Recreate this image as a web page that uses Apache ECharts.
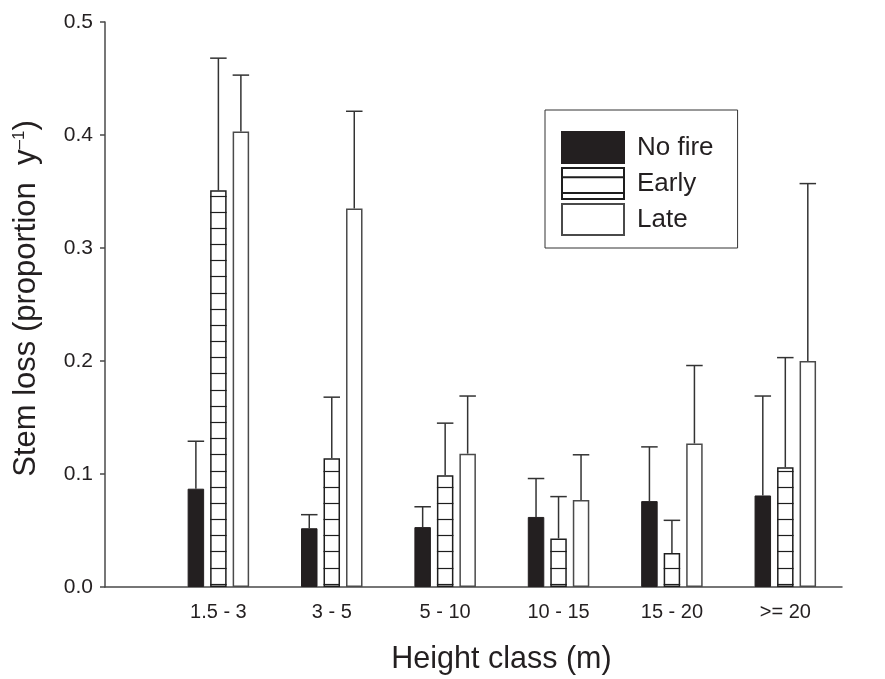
<!DOCTYPE html>
<html>
<head>
<meta charset="utf-8">
<script src="https://cdn.jsdelivr.net/npm/echarts@6/dist/echarts.min.js"></script>
<style>
  html, body { margin: 0; padding: 0; background: #ffffff; }
  #chart { width: 885px; height: 679px; }
</style>
</head>
<body>
<div id="chart"></div>
<script>
// ---- data ----
const categories = ['1.5 - 3', '3 - 5', '5 - 10', '10 - 15', '15 - 20', '>= 20'];
const seriesNames = ['No fire', 'Early', 'Late'];
const noFire      = [0.087, 0.052, 0.053, 0.062, 0.076, 0.081];
const noFireUpper = [0.129, 0.064, 0.071, 0.096, 0.124, 0.169];
const early       = [0.351, 0.114, 0.099, 0.043, 0.030, 0.106];
const earlyUpper  = [0.468, 0.168, 0.145, 0.080, 0.059, 0.203];
const late        = [0.403, 0.335, 0.118, 0.077, 0.127, 0.200];
const lateUpper   = [0.453, 0.421, 0.169, 0.117, 0.196, 0.357];
const yTicks = [0.0, 0.1, 0.2, 0.3, 0.4, 0.5];

// ---- styling ----
const FONT = '"Liberation Sans", Arial, Helvetica, sans-serif';
const INK = '#231f20';
const AXIS = '#4a4a4a';
const BAR_W = 16.5;
const BAR_GAP_PX = 6;
const HATCH_STEP = 16.17;
const HATCH_START = 3.3;

const chart = echarts.init(document.getElementById('chart'), null, { renderer: 'canvas' });

const values = [noFire, early, late];
const uppers = [noFireUpper, earlyUpper, lateUpper];

const itemStyles = [
  { color: INK, borderColor: INK, borderWidth: 1 },
  { color: '#ffffff', borderColor: '#1e1e1e', borderWidth: 1.5 },
  { color: '#ffffff', borderColor: '#4a4a4a', borderWidth: 1.5 }
];

const barSeries = seriesNames.map((name, s) => ({
  name: name,
  type: 'bar',
  barWidth: BAR_W,
  barGap: (BAR_GAP_PX / BAR_W * 100).toFixed(1) + '%',
  data: values[s].map((v, i) => [i + 1, v]),
  itemStyle: itemStyles[s],
  emphasis: { disabled: true },
  z: 2
}));

// horizontal hatching for the "Early" bars
const hatchSeries = {
  name: 'Early hatch',
  type: 'custom',
  data: early.map((v, i) => [i + 1, v]),
  z: 3,
  silent: true,
  renderItem: function (params, api) {
    const topPt = api.coord([api.value(0), api.value(1)]);
    const basePt = api.coord([api.value(0), 0]);
    const cx = topPt[0];
    const half = BAR_W / 2;
    const children = [];
    for (let y = basePt[1] - HATCH_START; y > topPt[1] + 2; y -= HATCH_STEP) {
      const yy = Math.round(y) + 0.5;
      children.push({
        type: 'line',
        shape: { x1: cx - half, y1: yy, x2: cx + half, y2: yy },
        style: { stroke: '#1e1e1e', lineWidth: 1.2 }
      });
    }
    return { type: 'group', children: children };
  }
};

const errSeries = seriesNames.map((name, s) => ({
  name: name + ' error',
  type: 'custom',
  data: values[s].map((v, i) => [i + 1, v, uppers[s][i]]),
  z: 4,
  silent: true,
  renderItem: function (params, api) {
    const base = api.coord([api.value(0), api.value(1)]);
    const top = api.coord([api.value(0), api.value(2)]);
    const x = base[0] + (s - 1) * (BAR_W + BAR_GAP_PX);
    const half = BAR_W / 2;
    const st = { stroke: '#333333', lineWidth: 1.5 };
    return {
      type: 'group',
      children: [
        { type: 'line', shape: { x1: x, y1: base[1], x2: x, y2: top[1] }, style: st },
        { type: 'line', shape: { x1: x - half, y1: top[1], x2: x + half, y2: top[1] }, style: st }
      ]
    };
  }
}));

const option = {
  animation: false,
  backgroundColor: '#ffffff',
  textStyle: { fontFamily: FONT, color: INK },
  grid: { left: 105, right: 43, top: 22, bottom: 92, containLabel: false, outerBoundsMode: 'none' },
  legend: {
    data: [
      { name: 'No fire' },
      { name: 'Early', icon: 'path://M0,0L62,0L62,31L0,31Z M0,9.3L62,9.3 M0,25L62,25' },
      { name: 'Late' }
    ],
    orient: 'vertical',
    left: 545,
    top: 110,
    padding: [21, 24, 12, 16],
    itemWidth: 62,
    itemHeight: 31,
    itemGap: 3,
    icon: 'rect',
    borderColor: '#333',
    borderWidth: 1,
    borderRadius: 0,
    selectedMode: false,
    textStyle: { fontSize: 26, lineHeight: 30, color: INK, fontFamily: FONT, padding: [0, 0, 0, 8] }
  },
  xAxis: {
    type: 'value',
    min: 0,
    max: categories.length + 0.5,
    interval: 1,
    name: 'Height class (m)',
    nameLocation: 'middle',
    nameGap: 57,
    nameMoveOverlap: false,
    nameTextStyle: { fontSize: 30.5, color: INK, fontFamily: FONT, padding: [0, 0, 0, 56] },
    axisLine: { show: true, onZero: false, lineStyle: { color: AXIS, width: 1.5 } },
    axisTick: { show: false },
    splitLine: { show: false },
    axisLabel: {
      fontSize: 20, color: INK, margin: 15, fontFamily: FONT,
      formatter: function (v) {
        const idx = Math.round(v) - 1;
        return (Math.abs(v - Math.round(v)) < 1e-6 && categories[idx] !== undefined) ? categories[idx] : '';
      }
    }
  },
  yAxis: {
    type: 'value',
    min: yTicks[0],
    max: yTicks[yTicks.length - 1],
    interval: 0.1,
    name: 'Stem loss (proportion  y{sup|–1})',
    nameLocation: 'middle',
    nameGap: 63,
    nameRotate: 90,
    nameMoveOverlap: false,
    nameTextStyle: {
      fontSize: 31, color: INK, fontFamily: FONT, padding: [0, 0, 0, 12],
      rich: { sup: { fontSize: 17, color: INK, fontFamily: FONT, verticalAlign: 'top', lineHeight: 31 } }
    },
    axisLine: { show: true, lineStyle: { color: AXIS, width: 1.5 } },
    axisTick: { show: true, inside: false, length: 5, lineStyle: { color: AXIS, width: 1.5 } },
    splitLine: { show: false },
    axisLabel: {
      fontSize: 21, color: INK, margin: 12, fontFamily: FONT,
      formatter: function (v) { return v.toFixed(1); }
    }
  },
  series: barSeries.concat([hatchSeries]).concat(errSeries)
};

chart.setOption(option);
</script>
</body>
</html>
